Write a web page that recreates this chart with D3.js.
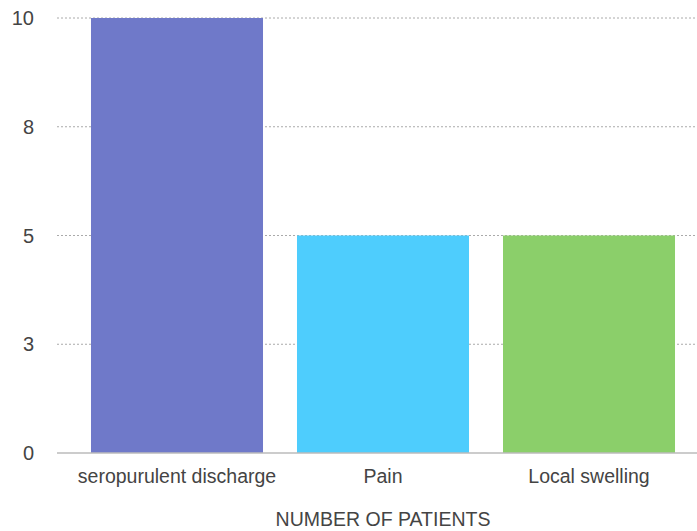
<!DOCTYPE html>
<html>
<head>
<meta charset="utf-8">
<script src="https://cdn.jsdelivr.net/npm/d3@7/dist/d3.min.js"></script>
<style>
  html, body { margin: 0; padding: 0; background: #fff; }
  svg { display: block; font-family: "Liberation Sans", Arial, Helvetica, sans-serif; }
</style>
</head>
<body>
<svg id="chart" width="697" height="531"></svg>
<script>
// Symptom counts
const categories = ["seropurulent discharge", "Pain", "Local swelling"];
const patients = [10, 5, 5];
const barColors = ["#6f79c9", "#4ecdfd", "#8bcf6a"];
const tickValues = [0, 2.5, 5, 7.5, 10];
const tickLabels = ["0", "3", "5", "8", "10"];
const axisTitle = "NUMBER OF PATIENTS";

const svg = d3.select("#chart");
const W = 697;
const plotLeft = 57, plotTop = 18, plotBottom = 453;

const x = d3.scaleBand()
  .domain(categories)
  .range([plotLeft, 709])
  .paddingInner(0.165)
  .paddingOuter(0.165);

const y = d3.scaleLinear().domain([0, 10]).range([plotBottom, plotTop]);

// Horizontal dotted gridlines
svg.append("g")
  .selectAll("line")
  .data(tickValues.filter(v => v > 0))
  .join("line")
  .attr("x1", plotLeft).attr("x2", W)
  .attr("y1", d => y(d)).attr("y2", d => y(d))
  .attr("stroke", "#aaa")
  .attr("stroke-width", 1)
  .attr("stroke-dasharray", "2,2");

// Y tick labels
svg.append("g")
  .selectAll("text")
  .data(tickValues)
  .join("text")
  .attr("x", 34)
  .attr("y", d => y(d))
  .attr("dy", "0.35em")
  .attr("text-anchor", "end")
  .attr("font-size", 20)
  .attr("fill", "#444")
  .text((d, i) => tickLabels[i]);

// Bars
svg.append("g")
  .selectAll("rect")
  .data(categories)
  .join("rect")
  .attr("x", d => x(d))
  .attr("width", x.bandwidth())
  .attr("y", (d, i) => y(patients[i]))
  .attr("height", (d, i) => y(0) - y(patients[i]))
  .attr("fill", (d, i) => barColors[i]);

// Baseline
svg.append("line")
  .attr("x1", plotLeft).attr("x2", W)
  .attr("y1", y(0)).attr("y2", y(0))
  .attr("stroke", "#bbb")
  .attr("stroke-width", 1.5);

// Category labels
svg.append("g")
  .selectAll("text")
  .data(categories)
  .join("text")
  .attr("x", d => x(d) + x.bandwidth() / 2)
  .attr("y", 483)
  .attr("text-anchor", "middle")
  .attr("font-size", 19.5)
  .attr("fill", "#444")
  .text(d => d);

// Axis title
svg.append("text")
  .attr("x", 383)
  .attr("y", 526)
  .attr("text-anchor", "middle")
  .attr("font-size", 19.5)
  .attr("fill", "#444")
  .text(axisTitle);
</script>
</body>
</html>
